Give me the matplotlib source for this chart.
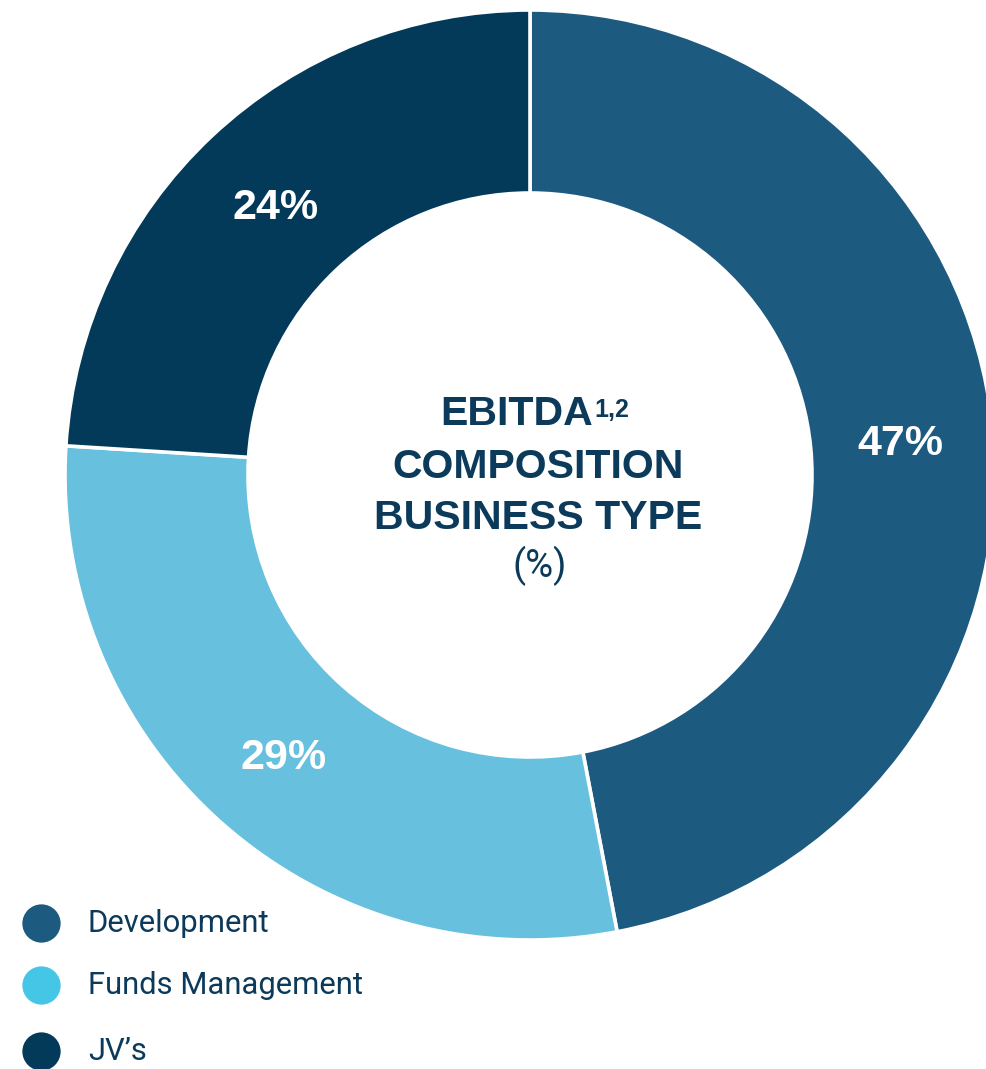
import matplotlib
matplotlib.use("Agg")
import matplotlib.pyplot as plt

# data
categories = ["Development", "Funds Management", "JV\u2019s"]
shares = [47, 29, 24]
wedge_colors = ["#1c5a80", "#67c1de", "#033a5a"]
legend_colors = ["#1d5a7f", "#45c6e6", "#033a5a"]
title_lines = ["COMPOSITION", "BUSINESS TYPE"]

TEXT = "#0b3a5a"
W, H = 986, 1069

plt.rcParams["font.family"] = ["Liberation Sans", "DejaVu Sans"]

fig = plt.figure(figsize=(W / 100, H / 100), dpi=100)
ax = fig.add_axes([0, 0, 1, 1])

cx, cy = 530, H - 475
R = 465
ring = 183

wedges, _, pcts = ax.pie(
    shares, colors=wedge_colors, startangle=90, counterclock=False,
    center=(cx, cy), radius=R, autopct="%d%%", pctdistance=0.8,
    wedgeprops=dict(width=ring, edgecolor="white", linewidth=2.6),
    textprops=dict(color="white", fontsize=31, fontweight="bold"),
)
# nudge the percentage labels down a touch
for p in pcts:
    px, py = p.get_position()
    p.set_position((px, py - 4))

ax.set_xlim(0, W)
ax.set_ylim(0, H)
ax.set_aspect("equal")
ax.axis("off")

# centre title
t = ax.text(cx - 13, H - 414, "EBITDA", ha="center", va="center",
            fontsize=29.5, fontweight="bold", color=TEXT)
ax.annotate("1,2", xy=(1, 1), xycoords=t, xytext=(1, -2), textcoords="offset points",
            ha="left", va="top", fontsize=18, fontweight="bold", color=TEXT)
for i, line in enumerate(title_lines):
    ax.text(cx + 8, H - 467 - 51 * i, line, ha="center", va="center",
            fontsize=29.5, fontweight="bold", color=TEXT)
ax.text(cx + 10, H - 566, "(%)", ha="center", va="center",
        fontsize=27.5, color=TEXT, family=["Roboto", "Liberation Sans"])

# legend
rows = [923, 985, 1051]
for y, name, col in zip(rows, categories, legend_colors):
    ax.scatter([41], [H - y], s=760, color=col, linewidths=0, clip_on=False)
    ax.text(88, H - y, name, ha="left", va="center", fontsize=22.3,
            color=TEXT, family=["Roboto", "Liberation Sans"])

fig.savefig("out.png", dpi=100)
